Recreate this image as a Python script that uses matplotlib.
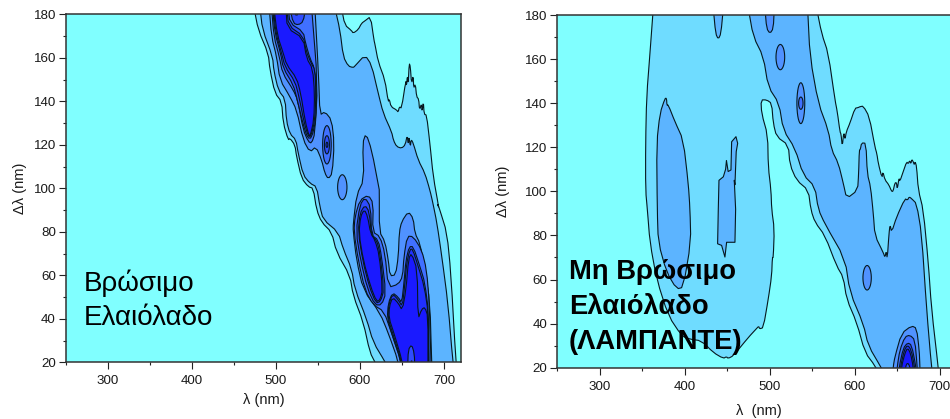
import matplotlib
matplotlib.use("Agg")
import matplotlib.pyplot as plt
from matplotlib.ticker import MultipleLocator

plt.rcParams['font.family'] = ['Liberation Sans', 'DejaVu Sans']

x_ticks = [300, 400, 500, 600, 700]
y_ticks = [20, 40, 60, 80, 100, 120, 140, 160, 180]
left_label = ["Βρώσιμο", "Ελαιόλαδο"]
right_label = ["Μη Βρώσιμο", "Ελαιόλαδο", "(ΛΑΜΠΑΝΤΕ)"]

# ---- contour regions of the left map (wavelength, delta-lambda) ----
L_1 = [(473.8,183),(479,172.8),(490.8,162),(492.9,154.4),(498.8,143.8),(506.8,139.8),(508.7,130),(514.6,122.2),
       (516.7,123),(522.6,119.9),(524.6,114.5),(530.6,104.6),(538.5,100.7),(544.4,100),(548.5,90),(554.4,84.4),
       (566.3,79.8),(572.2,70.6),(588.1,59.8),(592,50.7),(604,38.4),(611.9,24.6),(618,20),(622,17),
       (716,17),(714.3,20),(708.3,61),(703.6,79.5),(695.2,90),(692.5,93),(694,91),(687.3,105.4),(683.3,120.7),
       (679.4,133.7),(676.5,134),(675.5,140),(674,135),(673.4,139),(671,136),(670,141),(667.5,142.1),(666,148),
       (664,146),(663.5,152),(661.5,148),(660,156),(658.7,157.5),(657.5,148),(656.5,152),(655.5,147),(654.8,149.8),
       (649.6,136.8),(647,137.5),(645.5,135),(643.7,136),(637,137.5),(635,141),(633.7,139.8),(629.8,149.8),
       (621.8,158.2),(618,166),(616.7,168.2),(612.7,179),(606,177),(602,175.9),(598,173),(592,171.3),(590,172.5),
       (582,175.1),(578,183)]
L_2 = [(481,183),(484,173),(496,160.5),(497.5,154),(503,145),(511,141),(512.5,131),(516.7,125),(523.8,122.3),
       (526.5,116.1),(532.5,106.1),(540.5,102.3),(548.5,100.7),(552.4,91.5),(556.3,85.6),(574.2,79.8),(580.2,72.1),
       (590.1,62.9),(594,53.7),(607.9,39.9),(615.9,29.2),(629.8,20.3),(634,17),(712.5,17),(710.7,20),(704.8,47.2),
       (697.6,68.4),(691.7,84),(686.9,93.2),(683.3,99.2),(677.4,106.9),(669.4,113),(663.5,120.7),(661,122.5),
       (660,119),(658.5,124),(657.5,120),(656.3,124.5),(654,120),(649.6,118.4),(643.7,119.2),(640,122),(637.7,126),
       (627.8,134.5),(621.8,143.7),(613.9,156.7),(606,161.3),(594,156.2),(592,155.5),(586.1,156.2),(580.2,160.5),
       (576.2,172.8),(570.2,183)]
L_3_band = [(492,183),(494.8,169.7),(500.8,160.5),(504.8,149.8),(516.7,142.1),(524.6,136),(532.5,122.2),(540.5,116.6),
            (547.6,119.2),(554.4,113),(558.3,106.9),(562.3,104.3),(567.1,106.9),(569.4,120.7),(566.3,131.4),
            (558.3,135.2),(552.4,133.7),(550.8,151.3),(546.4,183)]
L_4_band = [(494.8,183),(497.6,169.7),(504,160.5),(507.9,152.9),(520.6,145.2),(525.8,140.6),(532.5,126.8),(538.5,121.5),
            (542.5,120.7),(546.4,125.3),(549.6,148.3),(542.5,183)]
L_5_band = [(496,183),(498.8,171.3),(505.5,162.1),(508.7,155.2),(520.6,147.6),(525.4,140.7),(532.5,129.2),(537.7,123.1),
            (542.5,123.1),(547.6,131.5),(548.4,143.8),(546,155.2),(540.5,159.8),(535.3,166.7),(532.5,172),(516.6,175.9),(514.7,183)]
L_6_band = [(496.8,183),(500,171.3),(506.7,162.1),(510.7,156),(522.6,149.1),(527.4,142.2),(533.7,130),(538.5,123.9),
            (541.7,123.9),(546.4,131.5),(547.6,143.8),(546.4,154.5),(542,157.5),(536.1,162.9),(532.5,170),(515,174.7),(513,183)]
L_7_band = [(497.6,183),(501.6,170.5),(508.7,162.1),(512.7,156.8),(524.6,150.6),(529.4,143.8),(534.9,130.7),(539.3,124.2),
            (540.9,124.2),(545.2,131.5),(546,143.8),(543.7,155),(536.5,159.8),(532.5,169),(513.5,173.6),(511.9,183)]
L_top_a = [(516.6,183),(520.6,175.9),(526.6,175.1),(532.5,176.6),(535.3,183)]
L_top_b = [(520.6,183),(524.6,178.6),(527.8,183)]
L_lobe_a = [(560.7,129.5),(564.6,126.7),(566.2,120),(564.6,113.3),(560.7,110.5),(556.8,113.3),(555.2,120),(556.8,126.7)]
L_lobe_b = [(560.7,124.5),(563,123.2),(563.9,120),(563,116.8),(560.7,115.5),(558.4,116.8),(557.5,120),(558.4,123.2)]
L_lobe_c = [(560.7,121.3),(561.5,120.9),(561.9,120),(561.5,119.1),(560.7,118.7),(559.9,119.1),(559.5,120),(559.9,120.9)]
L_island = [(579,106.7),(583.2,104.8),(585,100.5),(583.2,96.2),(579,94.3),(574.8,96.2),(573,100.5),(574.8,104.8)]
L_3_low = [(603.2,120.7),(604.8,103.9),(596.1,97),(592.1,84),(592,80),(596,67),(604,53.3),(623.9,42.6),(633.8,33.4),
           (645.7,20.4),(645,17),(686,17),(685.4,20.4),(683.4,47.2),(677.4,62.5),(671.5,74.7),(665.5,79.3),(663.5,86.2),
           (657.6,89.3),(649.7,84.7),(646.9,80),(645.7,68.6),(642.5,60.2),(635.8,59.7),(633.8,67),(629.8,75.5),
           (623.1,80.1),(623.1,99.2),(622.7,100),(614,117.6),(607.2,125.3)]
L_4_low = [(610,96.9),(600,94.6),(594.1,87),(592.9,80),(598,67),(606,53.3),(615.9,46.4),(628.6,43.4),(637.7,33.4),(648.9,20.4),
           (648,17),(685,17),(684.6,20.4),(682.6,47.2),(679.4,62.5),(673.5,71.7),(663.5,77.8),(656.4,78),(652.4,68.6),
           (650.8,59.4),(645.7,55.9),(633.8,54.4),(629.8,70.1),(623.9,77.8),(615.1,80),(615.9,93.1)]
L_5_peak = [(606,95.8),(600,92.3),(595.3,80),(600.8,67),(608.8,54),(617.9,46.4),(625.8,46.4),(631,51.8),(625.8,68.6),
            (621.9,76.2),(613.9,78.5),(612.7,91.5)]
L_6_peak = [(606,92.3),(600,88.5),(598,80),(603.2,67),(611.1,54.8),(619.1,47.2),(624.6,48),(628.6,53.3),(623.9,70.1),
            (619.9,76.2),(613.9,77.8),(611.1,89.2)]
L_7_peak = [(605.2,90.3),(600.8,87),(598.8,79.3),(604,67),(612.7,54.8),(619.9,47.9),(623.9,48.7),(627,53.3),(623,69.4),
            (617.9,76.2),(612.7,79.3),(609.2,87)]
L_5_low = [(638.9,52),(633.8,47.2),(632.6,40.3),(637.7,33.4),(649,20.4),(649,17),(682.4,17),(682.2,20.4),(681.8,42.6),(677.4,56.4),
           (671.5,64),(663.5,73.2),(658.8,73.2),(654.8,67),(652.4,56.4),(649.7,47.2),(645.7,49.9)]
L_6_low = [(638.9,51.5),(634.2,46.4),(633.4,40.3),(638.9,33.4),(649.7,20.4),(649.7,17),(682,17),(681.8,20.4),(681.4,42.6),(676.7,54.8),
           (669.5,64),(662.8,72),(659.6,72),(655.6,65.5),(653.2,54.8),(650.4,45.6),(645.7,48.7)]
L_7_low = [(638.9,49.9),(635,45.6),(634.6,40.3),(640.5,33.4),(650.5,20.4),(650.5,17),(681,17),(681,41),(677.4,45.3),(673.5,44.4),
           (669.1,39.8),(668.3,62.4),(661.6,70.1),(658,67.8),(654.8,53.3),(650.4,43.8),(645.7,47.2)]
L_base_a = [(656.8,17),(657.6,25.8),(661.6,28.1),(664.7,24.2),(665.5,17)]
L_base_b = [(660.3,17),(661.5,21.8),(662.7,17)]

# ---- contour regions of the right map ----
R_1 = [(362.9,183),(359,162.6),(355.1,143),(353.9,121.8),(353.9,100.5),(356,91.5),(359,76.9),(366.9,60.2),(380.6,43.6),
       (396.3,34.5),(405,33),(419.8,32.2),(433.5,26.9),(445.3,24.2),(449,25),(451,24.2),(457,25.4),(474.7,33.7),(484.5,37.8),
       (487,38.8),(488,37.6),(492.4,38.2),(498.2,51.1),(502.2,61.8),(503,70),(504.1,70),(505.3,82.9),(502.2,91.9),
       (501.4,100.5),(498.2,111.1),(497.5,125.5),(490.4,135.3),(489.6,141.5),(496.3,141.5),(502.2,139.9),(504.1,130.9),
       (508,124.8),(521.8,121),(523.7,112),(531.6,105),(545.3,100.5),(548.4,91.5),(553.2,86),(564.9,79.9),(578.6,66.2),
       (586.5,61),(590.4,51.2),(602.2,40.5),(612,26.9),(623.8,20.9),(628,17),(698.6,17),(698.2,20),(690.3,46.6),(686.4,68),
       (680.6,91.5),(674.7,100.7),(672.7,111.2),(671,113.5),(670,112),(668.8,113.4),(667,114.5),(666,112.5),(664.5,114),
       (663,112.5),(661,113.4),(657,109),(653,104.5),(652,106),(650,101),(649,104),(647.2,103.8),(645,100),(643.3,100),
       (640,103),(635.5,105.2),(633,109),(632,106),(627.6,112.8),(626,117),(623.7,120.2),(617.1,133.8),(610,138.7),(606,138.4),
       (604,138),(600.2,137.7),(594.3,131),(590,127),(588.4,123.3),(587,127),(585.3,120.2),(583.8,126),(582.6,127),(579.4,136.1),
       (576.7,141.5),(568.8,162.6),(561,171.6),(555.1,183)]
R_2_band = [(474.7,183),(480.6,170.2),(492.4,161.1),(498.2,147.4),(510.8,139.9),(515.9,127.8),(529.6,119.5),(539.4,107.4),
            (553.1,102.1),(557,91.9),(564.9,85.2),(588.4,69.4),(594.3,54.2),(610,39.9),(615.9,30),(630.8,20.2),(635,17),
            (692,17),(690.3,20),(684.5,46.5),(678.6,80.7),(672.7,94.4),(666.8,96.7),(664,97.5),(662,96),(659,96.7),(649.2,88.4),
            (643.3,81.4),(641.5,85),(640.2,80.7),(638.2,69.4),(637,73),(635.5,70),(633.5,72.2),(623.7,79.9),(621.8,89.8),
            (618.6,102),(614.7,108),(613.1,121.8),(608,122),(606.5,119),(605.3,118.7),(604.5,108),(603.3,100.5),(590.4,96.7),
            (586.5,103.6),(580.6,112.8),(572.8,118.7),(568.8,127.8),(557.1,140),(547.3,161.1),(544.5,183)]
R_2_blob_a = [(376.7,142.2),(378.5,142.2),(379,139),(380.6,139.2),(388.4,131.6),(398.2,123.3),(404.1,103.6),(406.1,91.9),(407.1,76.9),
              (398.2,56.5),(390.4,55.7),(378.6,63.3),(368.8,76.9),(367.6,91.5),(366.9,121.8),(370.8,135.4)]
R_2_blob_b = [(439.4,91.9),(438.6,76.2),(443.3,75.5),(447.2,70.2),(449.2,76.9),(459,76.9),(459.8,91.9),(458.2,105),(459,103),
              (460.5,118),(462.2,121.8),(460.2,124.8),(455.1,122.5),(454.3,109.7),(451,109),(449,114),(448,110),(445.3,106.6),(440.2,105)]
R_2_top = [(433.5,183),(436.3,171.6),(439.4,169),(442.5,171.6),(445.3,183)]
R_3_top = [(494.3,183),(496.3,173.9),(500.2,171.6),(504.1,173.9),(505.3,183)]
R_3_e1 = [(512.4,167.1),(516.3,165.2),(517.9,160.9),(516.3,156.6),(512.4,154.7),(508.5,156.6),(506.9,160.9),(508.5,165.2)]
R_3_e2 = [(536.5,150),(540,147),(541.5,140),(540,133),(536.5,130),(533,133),(531.5,140),(533,147)]
R_4_e2 = [(536.5,143),(538.5,142.1),(539.3,140),(538.5,137.9),(536.5,137),(534.5,137.9),(533.7,140),(534.5,142.1)]
R_3_e3 = [(614.5,66.8),(618.2,65),(619.8,60.8),(618.2,56.6),(614.5,54.8),(610.8,56.6),(609.2,60.8),(610.8,65)]
R_3_peak = [(644.8,17),(645.2,20.5),(647.2,25),(655,35.6),(666.8,39),(672.7,37.9),(675.8,28),(676.6,20.5),(676.8,17)]
R_4_peak = [(649.5,17),(649.9,20.5),(653,28),(659,34),(664.8,34.8),(670.7,32.6),(673.4,20.5),(673.6,17)]
R_5_peak = [(652,17),(652.3,20.5),(657,28.8),(662.1,31.3),(666.8,30.3),(671.9,20.5),(672.2,17)]
R_6_peak = [(653.5,17),(653.8,20.5),(658.2,28),(662.1,30.3),(666.4,28),(670.3,20.5),(670.6,17)]
R_7_peak = [(654.7,17),(655,20.5),(658.9,26.5),(662.1,29),(665.6,26.5),(668.7,20.5),(669,17)]
R_5_base = [(659.4,17),(659.7,20.5),(662.1,22.3),(664.8,20.5),(665,17)]

COLORS = {0: '#80FFFF', 1: '#6FDCFF', 2: '#5CB4FF', 3: '#5092FF', 4: '#4070FF',
          5: '#2F4CFF', 6: '#2030FF', 7: '#1A1AFF'}

LEFT_LAYERS = [(L_1,1,1),(L_2,2,1),(L_3_band,3,1),(L_4_band,4,1),(L_5_band,5,1),(L_6_band,6,1),(L_7_band,7,1),
               (L_top_a,5,1),(L_top_b,6,1),(L_lobe_a,4,2),(L_lobe_b,5,2),(L_lobe_c,6,2),(L_island,3,2),
               (L_3_low,3,1),(L_4_low,4,1),(L_5_low,5,1),(L_6_low,6,1),(L_7_low,7,1),
               (L_5_peak,5,1),(L_6_peak,6,1),(L_7_peak,7,1),(L_base_a,5,1),(L_base_b,4,1)]
RIGHT_LAYERS = [(R_1,1,1),(R_2_band,2,1),(R_2_blob_a,2,1),(R_2_blob_b,2,0),(R_2_top,2,1),(R_3_top,3,1),(R_3_e1,3,2),
                (R_3_e2,3,2),(R_4_e2,4,2),(R_3_e3,3,2),(R_3_peak,3,1),(R_4_peak,4,1),(R_5_peak,5,1),(R_6_peak,6,1),
                (R_7_peak,7,1),(R_5_base,5,1)]


def chaikin(pts, n):
    """Round the corners of a contour; vertices beyond the plot range stay put."""
    for _ in range(n):
        out = []
        m = len(pts)
        for i in range(m):
            p, prev, nxt = pts[i], pts[i - 1], pts[(i + 1) % m]
            if p[1] > 180 or p[1] < 20:
                out.append(p)
            else:
                out.append((0.75*p[0]+0.25*prev[0], 0.75*p[1]+0.25*prev[1]))
                out.append((0.75*p[0]+0.25*nxt[0], 0.75*p[1]+0.25*nxt[1]))
        pts = out
    return pts


def style(ax, layers):
    ax.set_facecolor(COLORS[0])
    for pts, lev, sm in layers:
        p = chaikin(pts, sm)
        ax.fill([q[0] for q in p], [q[1] for q in p], facecolor=COLORS[lev],
                edgecolor='#06181E', linewidth=0.8, joinstyle='round')
    ax.set_xlim(250, 720)
    ax.set_ylim(20, 180)
    ax.set_xticks(x_ticks)
    ax.set_yticks(y_ticks)
    ax.xaxis.set_minor_locator(MultipleLocator(50))
    ax.yaxis.set_minor_locator(MultipleLocator(10))
    ax.tick_params(which='major', length=4.8, width=0.8, labelsize=9.6, pad=2.5, color='#222222', labelcolor='#1a1a1a')
    ax.tick_params(axis='x', which='major', pad=4.5)
    ax.tick_params(which='minor', length=2.4, width=0.8, color='#222222')
    for s in ax.spines.values():
        s.set_linewidth(1.1)
        s.set_color('#333333')
        s.set_zorder(10)
    ax.set_axisbelow(False)


fig = plt.figure(figsize=(9.5, 4.19), dpi=100)
W, H = 950, 419
ax1 = fig.add_axes([66/W, 1-362.3/H, 394.7/W, 348/H])
ax2 = fig.add_axes([557.3/W, 1-367.7/H, 399.5/W, 352.7/H])
style(ax1, LEFT_LAYERS)
style(ax2, RIGHT_LAYERS)

ax1.set_xlabel("λ (nm)", fontsize=10.5, labelpad=4.5, color='#1a1a1a')
ax1.set_ylabel("Δλ (nm)", fontsize=10.5, labelpad=4.5, color='#1a1a1a')
ax2.set_xlabel("λ  (nm)", fontsize=10.5, color='#1a1a1a')
ax2.xaxis.set_label_coords((759-557.3)/399.5, -0.103)
ax2.set_ylabel("Δλ (nm)", fontsize=10.5, labelpad=11, color='#1a1a1a')

for txt, dl in zip(left_label, [52.8, 37.2]):
    ax1.text(271.4, dl, txt, fontsize=20, color='black', va='baseline', ha='left')
for txt, dl in zip(right_label, [60.2, 44.4, 28.5]):
    ax2.text(263.8, dl, txt, fontsize=19.7, fontweight='bold', color='black', va='baseline', ha='left')

fig.savefig('out.png', dpi=100)
